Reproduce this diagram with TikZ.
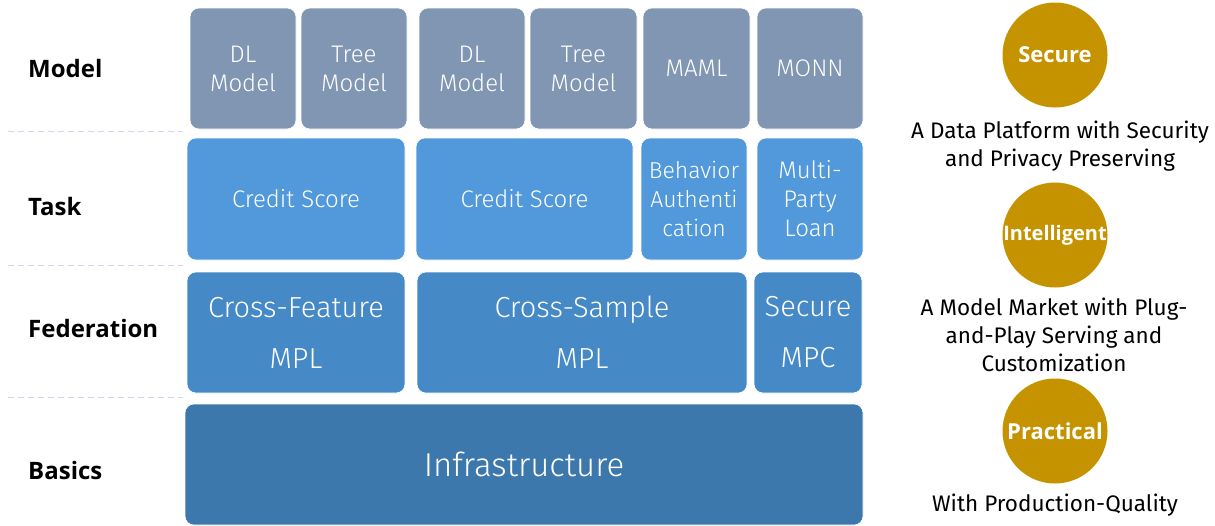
\documentclass[tikz,border=0pt]{standalone}
\usepackage{fontspec}
\setmainfont{Open Sans}
\newfontfamily\lightfont{Fira Sans Light}
\newfontfamily\descfont{Fira Sans}
\definecolor{cmodel}{RGB}{128,150,178}
\definecolor{ctask}{RGB}{81,153,218}
\definecolor{cfed}{RGB}{69,137,198}
\definecolor{cbase}{RGB}{61,120,173}
\definecolor{cgold}{RGB}{197,147,0}
\definecolor{cdash}{RGB}{205,215,238}
\begin{document}
\begin{tikzpicture}[x=1pt,y=-1pt,
  blk/.style={rounded corners=9pt, draw=white, line width=0.6pt, text=white, align=center, inner sep=0pt, font=\lightfont\fontsize{24}{29}\selectfont},
  mbox/.style={blk, fill=cmodel, minimum width=106pt, minimum height=121pt},
  tbox/.style={blk, fill=ctask, minimum height=122pt},
  fbox/.style={blk, fill=cfed, minimum height=121pt, font=\lightfont\fontsize{29}{51}\selectfont},
  rowlab/.style={anchor=west, inner sep=0pt, font=\bfseries\fontsize{24}{28}\selectfont},
  sep/.style={cdash, line width=1pt, dash pattern=on 6pt off 4pt},
  badge/.style={circle, fill=cgold, minimum size=105pt, inner sep=0pt},
  badgetext/.style={text=white, inner sep=0pt, font=\bfseries\fontsize{22}{24}\selectfont},
  desc/.style={align=center, inner sep=0pt, font=\descfont\fontsize{22.5}{28}\selectfont}]
\useasboundingbox (0,0) rectangle (1215,525);
% separators
\draw[sep] (8,131) -- (183,131);
\draw[sep] (8,265) -- (183,265);
\draw[sep] (8,397) -- (183,397);
% row labels
\node[rowlab] (lmodel) at (28,68) {Model};
\node[rowlab] (ltask) at (28,206) {Task};
\node[rowlab] (lfed) at (28,328) {Federation};
\node[rowlab] (lbase) at (28,470) {Basics};
% model row
\node[mbox] (m1) at (243,68.5) {DL\\Model};
\node[mbox] (m2) at (354,68.5) {Tree\\Model};
\node[mbox] (m3) at (472,68.5) {DL\\Model};
\node[mbox, minimum width=107pt] (m4) at (583.5,68.5) {Tree\\Model};
\node[mbox, minimum width=107pt] (m5) at (696.5,68.5) {MAML};
\node[mbox] (m6) at (810,68.5) {MONN};
% task row
\node[tbox, minimum width=218pt] (t1) at (296,199) {Credit Score};
\node[tbox, minimum width=217pt] (t2) at (524.5,199) {Credit Score};
\node[tbox, minimum width=106pt, font=\lightfont\fontsize{23}{29}\selectfont] (t3) at (694,199) {Behavior\\Authenti\\cation};
\node[tbox, minimum width=106pt] (t4) at (810,199) {Multi-\\Party\\Loan};
% federation row
\node[fbox, minimum width=218pt] (f1) at (296,332.5) {Cross-Feature\\MPL};
\node[fbox, minimum width=330pt] (f2) at (582,332.5) {Cross-Sample\\MPL};
\node[fbox, minimum width=108pt] (f3) at (808,332.5) {Secure\\MPC};
% basics
\node[blk, fill=cbase, minimum width=678pt, minimum height=121pt, font=\lightfont\fontsize{33}{36}\selectfont] (b1) at (524,464.5) {Infrastructure};
% right column
\node[badge] (c1) at (1055,55) {};
\node[badgetext] (c1t) at (c1.center) {Secure};
\node[desc] (d1) at (1060,146) {A Data Platform with Security\\and Privacy Preserving};
\node[badge] (c2) at (1055,235) {};
\node[badgetext, font=\bfseries\fontsize{20}{24}\selectfont] (c2t) at (c2.center) {Intelligent};
\node[desc] (d2) at (1054,335) {A Model Market with Plug-\\and-Play Serving and\\Customization};
\node[badge] (c3) at (1055,431) {};
\node[badgetext] (c3t) at (c3.center) {Practical};
\node[desc] (d3) at (1055,505) {With Production-Quality};
\end{tikzpicture}
\end{document}
